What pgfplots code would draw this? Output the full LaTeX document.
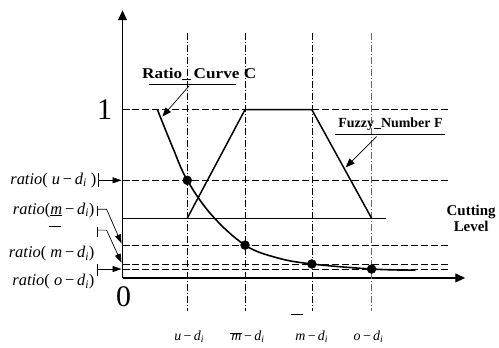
\documentclass[border=0pt]{standalone}
\usepackage{fontspec}
\setmainfont{Liberation Serif}
\usepackage{pgfplots}
\pgfplotsset{compat=1.18}
\usetikzlibrary{arrows.meta}
\begin{document}
\begin{tikzpicture}
\begin{axis}[hide axis, scale only axis, width=499pt, height=349pt,
  xmin=-123, xmax=376, ymin=-0.414, ymax=1.651, clip=false]
\path (axis cs:-123,-0.414) rectangle (axis cs:376,1.651);
% axes
\draw[line width=1.3pt,-{Triangle[length=10pt,width=9pt]}] (axis cs:0,0) -- (axis cs:344,0);
\draw[line width=1.3pt,-{Triangle[length=10pt,width=9pt]}] (axis cs:0,0) -- (axis cs:0,1.59);
% vertical dash-dot lines
\addplot[black, thin, dash pattern=on 7pt off 2pt on 1pt off 2pt] coordinates {(65,1.456) (65,-0.195)};
\addplot[black, thin, dash pattern=on 7pt off 2pt on 1pt off 2pt] coordinates {(123,1.456) (123,-0.195)};
\addplot[black, thin, dash pattern=on 7pt off 2pt on 1pt off 2pt] coordinates {(190,1.456) (190,-0.195)};
\addplot[black!60, thin, dash pattern=on 7pt off 2pt on 1pt off 2pt] coordinates {(250,1.456) (250,-0.195)};
% horizontal dashed lines
\addplot[black, thin, dash pattern=on 7pt off 3pt] coordinates {(0,1) (327,1)};
\addplot[black, thin, dash pattern=on 7pt off 3pt] coordinates {(0,0.58) (330,0.58)};
\addplot[black, thin, dash pattern=on 7pt off 3pt] coordinates {(0,0.195) (330,0.195)};
\addplot[black, thin, dash pattern=on 7pt off 3pt] coordinates {(0,0.083) (330,0.083)};
\addplot[black, thin, dash pattern=on 7pt off 3pt] coordinates {(0,0.053) (330,0.053)};
% cutting level
\addplot[black, line width=0.9pt] coordinates {(0,0.355) (264,0.355)};
% fuzzy number
\addplot[black, line width=1.5pt] coordinates {(65,0.355) (123,1) (190,1) (250,0.355)};
% ratio curve
\addplot[black, line width=1.6pt, smooth, tension=0.6] coordinates {(35,1.0) (50,0.78) (65,0.58) (90,0.37) (123,0.195) (155,0.12) (190,0.083) (250,0.053) (294,0.046)};
\addplot[only marks, mark=*, mark size=4.5pt, black] coordinates {(65,0.58) (123,0.195) (190,0.083) (250,0.053)};
% labels
\node[font=\fontsize{30}{30}\selectfont] at (axis cs:-18,1.0) {1};
\node[font=\fontsize{30}{30}\selectfont] at (axis cs:1,-0.113) {0};
\node[font=\fontsize{15}{15}\selectfont\bfseries, inner sep=0pt] at (axis cs:77,1.207) {\scalebox{1.15}[1]{Ratio\_\,Curve C}};
\draw[line width=0.9pt] (axis cs:27,1.148) -- (axis cs:114,1.148);
\draw[line width=0.7pt,-{Triangle[length=9pt,width=7pt]}] (axis cs:67,1.142) -- (axis cs:40,0.959);
\node[font=\fontsize{14}{14}\selectfont\bfseries] at (axis cs:269,0.911) {Fuzzy\_Number F};
\draw[line width=0.9pt] (axis cs:213,0.852) -- (axis cs:324,0.852);
\draw[line width=0.7pt,-{Triangle[length=9pt,width=7pt]}] (axis cs:255,0.840) -- (axis cs:224,0.657);
\node[font=\fontsize{15}{16}\selectfont\bfseries, align=center] at (axis cs:350,0.355) {Cutting\\Level};
% left labels
\node[anchor=east, font=\fontsize{16.5}{16}\selectfont, inner sep=1pt] at (axis cs:-25,0.580) {\textit{ratio}( \textit{u}\,−\,\textit{d}\textsubscript{\textit{i}} )};
\node[anchor=east, font=\fontsize{16.5}{16}\selectfont, inner sep=1pt] at (axis cs:-27,0.402) {\textit{ratio}(\underline{\textit{m}}\,−\,\textit{d}\textsubscript{\textit{i}})};
\draw[line width=0.7pt] (axis cs:-74,0.308) -- (axis cs:-62,0.308);
\node[anchor=east, font=\fontsize{16.5}{16}\selectfont, inner sep=1pt] at (axis cs:-27,0.142) {\textit{ratio}( \textit{m}\,−\,\textit{d}\textsubscript{\textit{i}})};
\node[anchor=east, font=\fontsize{16.5}{16}\selectfont, inner sep=1pt] at (axis cs:-27,-0.024) {\textit{ratio}( \textit{o}\,−\,\textit{d}\textsubscript{\textit{i}})};
% left brackets and arrows
\draw[line width=0.7pt] (axis cs:-24,0.621) -- (axis cs:-24,0.538);
\draw[line width=0.7pt,-{Triangle[length=9pt,width=6pt]}] (axis cs:-24,0.580) -- (axis cs:-1,0.580);
\draw[line width=0.7pt] (axis cs:-25,0.426) -- (axis cs:-25,0.367);
\draw[line width=0.7pt,-{Triangle[length=9pt,width=6pt]}] (axis cs:-25,0.408) -- (axis cs:-16,0.408) -- (axis cs:-1,0.205);
\draw[line width=0.7pt] (axis cs:-25,0.302) -- (axis cs:-25,0.243);
\draw[line width=0.7pt,-{Triangle[length=9pt,width=6pt]}] (axis cs:-25,0.284) -- (axis cs:-16,0.284) -- (axis cs:-1,0.090);
\draw[line width=0.7pt] (axis cs:-25,0.083) -- (axis cs:-25,0.012);
\draw[line width=0.7pt,-{Triangle[length=9pt,width=6pt]}] (axis cs:-25,0.053) -- (axis cs:-1,0.053);
% bottom labels
\node[font=\fontsize{14}{14}\selectfont] at (axis cs:67,-0.349) {\textit{u}\,−\,\textit{d}\textsubscript{\textit{i}}};
\node[font=\fontsize{14}{14}\selectfont] at (axis cs:125,-0.349) {$\overline{\phantom{m}}$\llap{\textit{m}\kern0.5pt}\,−\,\textit{d}\textsubscript{\textit{i}}};
\node[font=\fontsize{14}{14}\selectfont] at (axis cs:190,-0.349) {\textit{m}\,−\,\textit{d}\textsubscript{\textit{i}}};
\draw[line width=0.8pt] (axis cs:169,-0.219) -- (axis cs:181,-0.219);
\node[font=\fontsize{14}{14}\selectfont] at (axis cs:247,-0.349) {\textit{o}\,−\,\textit{d}\textsubscript{\textit{i}}};
\end{axis}
\end{tikzpicture}
\end{document}
